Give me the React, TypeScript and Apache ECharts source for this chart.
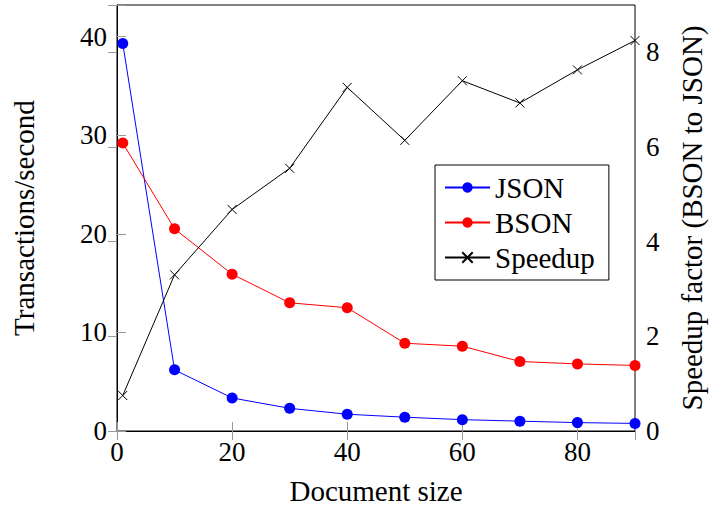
import React, { useEffect, useRef } from "react";
import * as echarts from "echarts";

const docSizes = [1, 10, 20, 30, 40, 50, 60, 70, 80, 90];
const jsonTps = [39.3, 6.2, 3.35, 2.3, 1.7, 1.4, 1.15, 1.0, 0.85, 0.77];
const bsonTps = [29.2, 20.5, 15.9, 13.0, 12.5, 8.9, 8.6, 7.05, 6.8, 6.65];
const speedup = [0.75, 3.3, 4.68, 5.55, 7.26, 6.14, 7.4, 6.93, 7.63, 8.25];

const FONT = "'Liberation Serif', 'DejaVu Serif', serif";
const CROSS = "path://M0,0L10,10M10,0L0,10";

export default function App() {
  const ref = useRef<HTMLDivElement>(null);
  useEffect(() => {
    if (!ref.current) return;
    const chart = echarts.init(ref.current, undefined, { renderer: "svg" });
    const pair = (ys: number[]) => docSizes.map((x, i) => [x, ys[i]]);
    const tickStyle = { show: true, inside: true, length: 9, lineStyle: { color: "#999", width: 1 } };
    const labelStyle = { color: "#000", fontSize: 27, fontFamily: FONT };
    const nameStyle = { color: "#000", fontSize: 29, fontFamily: FONT };
    chart.setOption({
      animation: false,
      backgroundColor: "#fff",
      grid: { left: 117, right: 86, top: 5, bottom: 75, show: true, borderColor: "#000", borderWidth: 1, backgroundColor: "transparent" },
      legend: {
        orient: "vertical",
        left: 435,
        top: 165,
        padding: [8, 14, 8, 9],
        itemGap: 6,
        itemWidth: 45,
        itemHeight: 13,
        borderColor: "#000",
        borderWidth: 1,
        backgroundColor: "#fff",
        textStyle: { color: "#000", fontSize: 29, fontFamily: FONT, padding: [0, 0, 0, 0] },
        data: ["JSON", "BSON", "Speedup"],
      },
      xAxis: [
        {
          type: "value",
          min: 0,
          max: 90,
          interval: 20,
          name: "Document size",
          nameLocation: "middle",
          nameGap: 45,
          nameTextStyle: nameStyle,
          axisLine: { show: true, lineStyle: { color: "#000", width: 1 } },
          axisTick: tickStyle,
          axisLabel: { ...labelStyle, margin: 7, formatter: (v: number) => (v % 20 === 0 ? String(v) : "") },
          splitLine: { show: false },
        },
        {
          type: "value",
          position: "top",
          min: 0,
          max: 90,
          interval: 20,
          axisLine: { show: true, lineStyle: { color: "#000", width: 1 } },
          axisTick: tickStyle,
          axisLabel: { show: false },
          splitLine: { show: false },
        },
      ],
      yAxis: [
        {
          type: "value",
          min: 0,
          max: 43.2,
          interval: 10,
          name: "Transactions/second",
          nameLocation: "middle",
          nameRotate: 90,
          nameGap: 79,
          nameTextStyle: nameStyle,
          axisLine: { show: true, lineStyle: { color: "#000", width: 1 } },
          axisTick: tickStyle,
          axisLabel: { ...labelStyle, margin: 10, formatter: (v: number) => (v % 10 === 0 ? String(v) : "") },
          splitLine: { show: false },
        },
        {
          type: "value",
          position: "right",
          min: 0,
          max: 9,
          interval: 2,
          name: "Speedup factor (BSON to JSON)",
          nameLocation: "middle",
          nameRotate: 90,
          nameGap: 42,
          nameTextStyle: nameStyle,
          axisLine: { show: true, lineStyle: { color: "#000", width: 1 } },
          axisTick: tickStyle,
          axisLabel: { ...labelStyle, margin: 11, formatter: (v: number) => (v % 2 === 0 ? String(v) : "") },
          splitLine: { show: false },
        },
      ],
      series: [
        {
          name: "JSON",
          type: "line",
          xAxisIndex: 0,
          yAxisIndex: 0,
          data: pair(jsonTps),
          symbol: "circle",
          symbolSize: 11,
          showAllSymbol: true,
          lineStyle: { color: "#0000ff", width: 1 },
          itemStyle: { color: "#0000ff" },
        },
        {
          name: "BSON",
          type: "line",
          xAxisIndex: 0,
          yAxisIndex: 0,
          data: pair(bsonTps),
          symbol: "circle",
          symbolSize: 11,
          showAllSymbol: true,
          lineStyle: { color: "#ff0000", width: 1 },
          itemStyle: { color: "#ff0000" },
        },
        {
          name: "Speedup",
          type: "line",
          xAxisIndex: 0,
          yAxisIndex: 1,
          data: pair(speedup),
          symbol: CROSS,
          symbolSize: 9,
          showAllSymbol: true,
          lineStyle: { color: "#000", width: 1 },
          itemStyle: { color: "none", borderColor: "#000", borderWidth: 1 },
        },
      ],
    });
    return () => chart.dispose();
  }, []);
  return <div ref={ref} style={{ width: 721, height: 510, position: "absolute", left: 0, top: 0 }} />;
}
